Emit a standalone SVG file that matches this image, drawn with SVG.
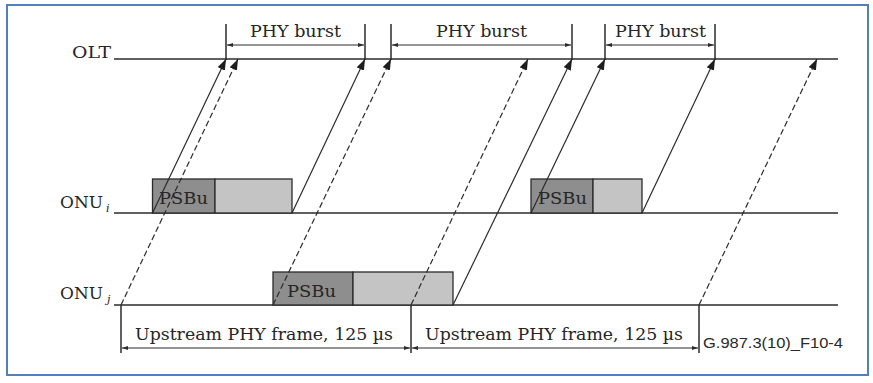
<svg xmlns="http://www.w3.org/2000/svg" width="873" height="383" viewBox="0 0 873 383">
  <style>
    .lane { stroke: #2b2b2b; stroke-width: 1.5; fill: none; }
    .tick { stroke: #2b2b2b; stroke-width: 1.5; fill: none; }
    .dim { stroke: #2b2b2b; stroke-width: 1; fill: none; marker-start: url(#dimHead); marker-end: url(#dimHead); }
    .sig { stroke: #2b2b2b; stroke-width: 1.2; fill: none; marker-end: url(#sigHead); }
    .sig.dash { stroke-dasharray: 6 3; }
    .psbu { fill: #8e8e8e; stroke: #2b2b2b; stroke-width: 1.3; }
    .payload { fill: #c4c4c4; stroke: #2b2b2b; stroke-width: 1.3; }
    .lbl { font-family: "DejaVu Serif", "Liberation Serif", serif; font-size: 17px; fill: #262626; }
    .tag { font-family: "Liberation Sans", Arial, sans-serif; font-size: 14px; fill: #2a2a2a; }
  </style>
  <defs>
    <marker id="sigHead" markerUnits="userSpaceOnUse" markerWidth="11" markerHeight="8" refX="11" refY="4" orient="auto">
      <path d="M0,0 L11,4 L0,8 z" fill="#1e1e1e"/>
    </marker>
    <marker id="dimHead" markerUnits="userSpaceOnUse" markerWidth="6" markerHeight="4" refX="6" refY="2" orient="auto-start-reverse">
      <path d="M0,0 L6,2 L0,4 z" fill="#2b2b2b"/>
    </marker>
  </defs>

  <rect x="7" y="5" width="861" height="370" fill="#ffffff" stroke="#4f81bd" stroke-width="2"/>

  <!-- OLT lane with burst boundaries -->
  <g id="olt">
    <text class="lbl" x="72" y="58" textLength="39" lengthAdjust="spacingAndGlyphs">OLT</text>
    <line class="lane" x1="114" y1="59" x2="838" y2="59"/>
    <line class="tick" x1="226" y1="24" x2="226" y2="60"/>
    <line class="tick" x1="365" y1="24" x2="365" y2="60"/>
    <line class="tick" x1="391" y1="24" x2="391" y2="60"/>
    <line class="tick" x1="572" y1="24" x2="572" y2="60"/>
    <line class="tick" x1="605" y1="24" x2="605" y2="60"/>
    <line class="tick" x1="715" y1="24" x2="715" y2="60"/>
  </g>

  <g id="phy-bursts">
    <line class="dim" x1="227" y1="45" x2="364" y2="45"/>
    <line class="dim" x1="392" y1="45" x2="571" y2="45"/>
    <line class="dim" x1="606" y1="45" x2="714" y2="45"/>
    <text class="lbl" x="250" y="37" textLength="91" lengthAdjust="spacingAndGlyphs">PHY burst</text>
    <text class="lbl" x="436" y="37" textLength="91" lengthAdjust="spacingAndGlyphs">PHY burst</text>
    <text class="lbl" x="615" y="37" textLength="91" lengthAdjust="spacingAndGlyphs">PHY burst</text>
  </g>

  <!-- ONU i lane -->
  <g id="onu-i">
    <text class="lbl" x="60" y="208"><tspan textLength="43" lengthAdjust="spacingAndGlyphs">ONU</tspan><tspan font-style="italic" font-size="11" dx="3" dy="4">i</tspan></text>
    <line class="lane" x1="114" y1="213" x2="838" y2="213"/>
    <rect class="psbu" x="152.5" y="179" width="62.5" height="34"/>
    <rect class="payload" x="215" y="179" width="77" height="34"/>
    <text class="lbl" x="159" y="204" textLength="49" lengthAdjust="spacingAndGlyphs">PSBu</text>
    <rect class="psbu" x="531" y="179" width="62" height="34"/>
    <rect class="payload" x="593" y="179" width="49" height="34"/>
    <text class="lbl" x="538" y="204" textLength="49" lengthAdjust="spacingAndGlyphs">PSBu</text>
  </g>

  <!-- ONU j lane -->
  <g id="onu-j">
    <text class="lbl" x="60" y="299"><tspan textLength="43" lengthAdjust="spacingAndGlyphs">ONU</tspan><tspan font-style="italic" font-size="11" dx="4" dy="4">j</tspan></text>
    <line class="lane" x1="114" y1="305" x2="838" y2="305"/>
    <rect class="psbu" x="273" y="272" width="80" height="33"/>
    <rect class="payload" x="353" y="272" width="100" height="33"/>
    <text class="lbl" x="287" y="297" textLength="49" lengthAdjust="spacingAndGlyphs">PSBu</text>
  </g>

  <!-- upstream frame boundaries -->
  <g id="frames">
    <line class="tick" x1="121" y1="305" x2="121" y2="353"/>
    <line class="tick" x1="411" y1="305" x2="411" y2="353"/>
    <line class="tick" x1="699" y1="305" x2="699" y2="353"/>
    <line class="dim" x1="122" y1="348" x2="410" y2="348"/>
    <line class="dim" x1="412" y1="348" x2="698" y2="348"/>
    <text class="lbl" x="135" y="340" textLength="258" lengthAdjust="spacingAndGlyphs">Upstream PHY frame, 125 µs</text>
    <text class="lbl" x="425" y="340" textLength="258" lengthAdjust="spacingAndGlyphs">Upstream PHY frame, 125 µs</text>
    <text class="tag" x="703" y="348" textLength="140" lengthAdjust="spacingAndGlyphs">G.987.3(10)_F10-4</text>
  </g>

  <!-- propagation of burst edges to the OLT -->
  <g id="connectors">
    <line class="sig" x1="152.5" y1="213" x2="226" y2="59"/>
    <line class="sig" x1="292" y1="213" x2="365" y2="59"/>
    <line class="sig" x1="531" y1="213" x2="605" y2="59"/>
    <line class="sig" x1="642" y1="213" x2="715" y2="59"/>
    <line class="sig" x1="453" y1="305" x2="572" y2="59"/>
    <line class="sig dash" x1="121" y1="305" x2="238" y2="59"/>
    <line class="sig dash" x1="273" y1="305" x2="391" y2="59"/>
    <line class="sig dash" x1="411" y1="305" x2="528" y2="59"/>
    <line class="sig dash" x1="699" y1="305" x2="817" y2="59"/>
  </g>
</svg>
